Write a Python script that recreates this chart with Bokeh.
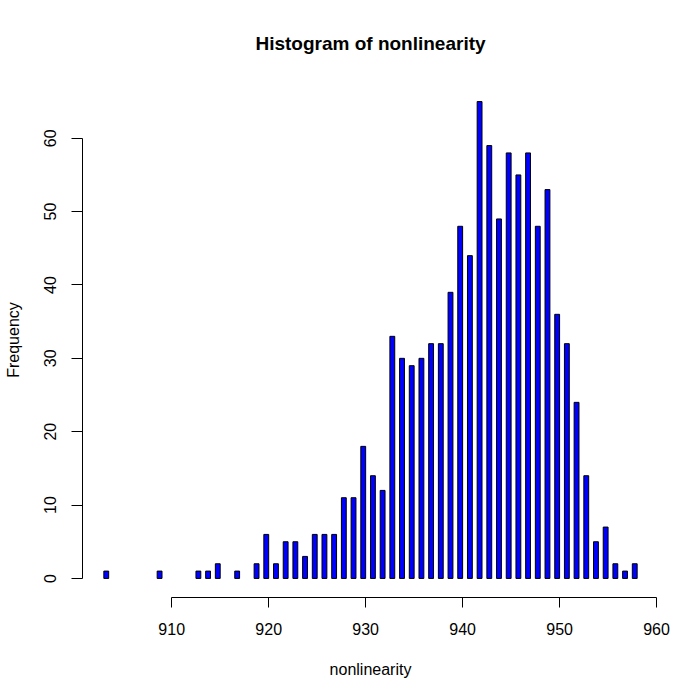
from bokeh.plotting import figure
from bokeh.models import FixedTicker
from bokeh.embed import file_html
from bokeh.resources import INLINE
import numpy as np

# Data: nonlinearity values (integers) and their frequencies
values = list(range(903, 959))
counts = [1, 0, 0, 0, 0, 0, 1, 0, 0, 0, 1, 1, 2, 0, 1, 0, 2, 6, 2, 5,
          5, 3, 6, 6, 6, 11, 11, 18, 14, 12, 33, 30, 29, 30, 32, 32, 39, 48, 44, 65,
          59, 49, 58, 55, 58, 48, 53, 36, 32, 24, 14, 5, 7, 2, 1, 2]
x_ticks = [910, 920, 930, 940, 950, 960]
y_ticks = [0, 10, 20, 30, 40, 50, 60]
bin_width = 0.5

vals = np.array(values, dtype=float)
cnts = np.array(counts, dtype=float)
# R-style right-closed bins of width 0.5 (first bin includes its lowest edge)
left = np.where(vals == vals.min(), vals, vals - bin_width)
right = left + bin_width

xmin, xmax = left.min(), right.max()
xpad = (xmax - xmin) * 0.04
ymax = cnts.max()
ypad = ymax * 0.04

FONT = "Liberation Sans"

p = figure(width=692, height=692, output_backend="svg", toolbar_location=None,
           x_range=(xmin - xpad, xmax + xpad), y_range=(-ypad, ymax + ypad),
           min_border_left=82, min_border_right=34, min_border_top=82, min_border_bottom=95,
           title="Histogram of nonlinearity")

mask = cnts > 0
p.quad(left=left[mask], right=right[mask], bottom=0, top=cnts[mask],
       fill_color="#0000FF", line_color="black", line_width=1)

p.outline_line_color = None
p.xgrid.visible = False
p.ygrid.visible = False
p.background_fill_color = "white"
p.border_fill_color = "white"

p.title.align = "center"
p.title.text_font = FONT
p.title.text_font_size = "19px"
p.title.text_font_style = "bold"
p.title.text_color = "black"
p.title.standoff = 57

for ax in (p.xaxis[0], p.yaxis[0]):
    ax.axis_line_color = "black"
    ax.major_tick_line_color = "black"
    ax.minor_tick_line_color = None
    ax.major_tick_in = 0
    ax.major_label_text_font = FONT
    ax.major_label_text_font_size = "16px"
    ax.major_label_text_color = "black"
    ax.axis_label_text_font = FONT
    ax.axis_label_text_font_size = "16px"
    ax.axis_label_text_font_style = "normal"
    ax.axis_label_text_color = "black"

xa = p.xaxis[0]
xa.ticker = FixedTicker(ticks=x_ticks)
xa.bounds = (x_ticks[0], x_ticks[-1])
xa.major_tick_out = 10
xa.major_label_standoff = 15
xa.axis_label = "nonlinearity"
xa.axis_label_standoff = 23

ya = p.yaxis[0]
ya.ticker = FixedTicker(ticks=y_ticks)
ya.bounds = (y_ticks[0], y_ticks[-1])
ya.major_tick_out = 11
ya.major_label_standoff = 15
ya.major_label_orientation = "vertical"
ya.axis_label = "Frequency"
ya.axis_label_standoff = 20

open("out.html", "w").write(file_html(p, INLINE))
